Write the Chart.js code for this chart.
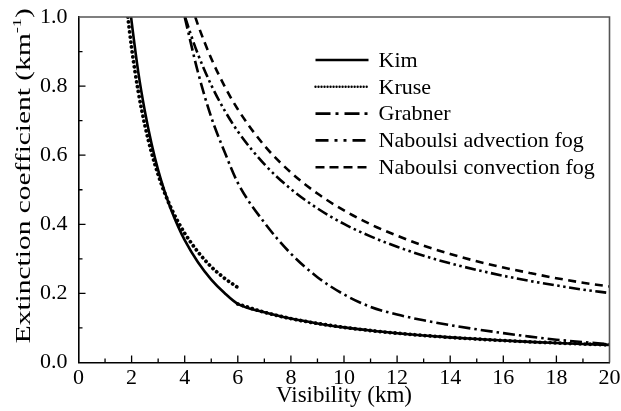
<!DOCTYPE html>
<html lang="en">
<head>
<meta charset="UTF-8">
<title>Extinction coefficient vs visibility</title>
<script src="https://cdn.jsdelivr.net/npm/chart.js"></script>
<style>
  html, body { margin: 0; padding: 0; background: #fff; }
  #wrap { width: 621px; height: 411px; }
</style>
</head>
<body>
<div id="wrap"><canvas id="chart"></canvas></div>
<script>
// values: visibility (km) and extinction coefficient (km^-1)
const kimV = [1.98, 2, 2.25, 2.5, 2.75, 3, 3.25, 3.5, 3.75, 4, 4.5, 5, 5.5, 6, 7, 8, 9, 10, 11, 12, 13, 14, 15, 16, 17, 18, 19, 20];
const kimB = [1.0, 0.987, 0.841, 0.727, 0.634, 0.557, 0.494, 0.440, 0.394, 0.354, 0.290, 0.240, 0.201, 0.1695, 0.1453, 0.1271, 0.113, 0.1017, 0.0925, 0.0848, 0.0782, 0.0726, 0.0678, 0.0636, 0.0598, 0.0565, 0.0535, 0.0509];

// Kruse jumps at 6 km and then runs on top of Kim
const kruseV = [1.86, 2, 2.25, 2.5, 2.75, 3, 3.25, 3.5, 3.75, 4, 4.5, 5, 5.5, 6, 6, 6, 7, 8, 9, 10, 11, 12, 13, 14, 15, 16, 17, 18, 19, 20];
const kruseB = [1.0, 0.911, 0.785, 0.687, 0.608, 0.544, 0.490, 0.445, 0.407, 0.374, 0.320, 0.277, 0.244, 0.217, null, 0.1695, 0.1453, 0.1271, 0.113, 0.1017, 0.0925, 0.0848, 0.0782, 0.0726, 0.0678, 0.0636, 0.0598, 0.0565, 0.0535, 0.0509];

const grabnerV = [4.0, 4.5, 5, 5.5, 6, 7, 8, 9, 10, 11, 12, 13, 14, 15, 16, 17, 18, 19, 20];
const grabnerB = [1.0, 0.84, 0.71, 0.61, 0.52, 0.405, 0.315, 0.247, 0.197, 0.161, 0.139, 0.122, 0.108, 0.096, 0.085, 0.075, 0.066, 0.059, 0.053];

const advV = [4.015, 4.25, 4.5, 5, 5.5, 6, 7, 8, 9, 10, 11, 12, 13, 14, 15, 16, 17, 18, 19, 20];
const advB = [1.0, 0.945, 0.892, 0.803, 0.730, 0.669, 0.574, 0.502, 0.446, 0.401, 0.365, 0.335, 0.309, 0.287, 0.268, 0.251, 0.236, 0.223, 0.211, 0.201];

const convV = [4.398, 4.5, 5, 5.5, 6, 7, 8, 9, 10, 11, 12, 13, 14, 15, 16, 17, 18, 19, 20];
const convB = [1.0, 0.977, 0.880, 0.800, 0.733, 0.628, 0.550, 0.489, 0.440, 0.400, 0.367, 0.338, 0.314, 0.293, 0.275, 0.259, 0.244, 0.231, 0.220];

const xTicks = [0, 2, 4, 6, 8, 10, 12, 14, 16, 18, 20];
const yTicks = [0, 0.2, 0.4, 0.6, 0.8, 1.0];

const FONT = '"Liberation Serif", "Times New Roman", serif';

function pairs(xs, ys) {
  return xs.map((x, i) => ({ x: x, y: ys[i] }));
}

function series(label, xs, ys, dash, extra) {
  return Object.assign({
    label: label,
    data: pairs(xs, ys),
    borderColor: '#000',
    backgroundColor: '#000',
    borderWidth: 2.6,
    borderDash: dash,
    pointRadius: 0,
    fill: false,
    spanGaps: false,
    cubicInterpolationMode: 'monotone'
  }, extra || {});
}

// inside ticks, top/right frame, the boxed-in legend and the long y title
const decorations = {
  id: 'decorations',
  afterDraw(chart) {
    const ctx = chart.ctx;
    const a = chart.chartArea;
    const xs = chart.scales.x, ys = chart.scales.y;
    ctx.save();

    // frame on top and right
    ctx.strokeStyle = '#555';
    ctx.lineWidth = 1.6;
    ctx.beginPath();
    ctx.moveTo(a.left, a.top);
    ctx.lineTo(a.right, a.top);
    ctx.lineTo(a.right, a.bottom);
    ctx.stroke();

    // ticks pointing in
    ctx.strokeStyle = '#000';
    ctx.lineWidth = 1.3;
    ctx.beginPath();
    for (let v = 1; v < 20; v++) {
      const px = xs.getPixelForValue(v);
      const len = v % 2 === 0 ? 7 : 4;
      ctx.moveTo(px, a.bottom);
      ctx.lineTo(px, a.bottom - len);
    }
    for (let k = 1; k < 10; k++) {
      const py = ys.getPixelForValue(k / 10);
      const len = k % 2 === 0 ? 7 : 4;
      ctx.moveTo(a.left, py);
      ctx.lineTo(a.left + len, py);
    }
    ctx.stroke();

    // legend
    const x0 = a.left + 237, x1 = a.left + 290, tx = a.left + 300;
    let y = a.top + 43;
    ctx.font = '22px ' + FONT;
    ctx.fillStyle = '#000';
    ctx.textBaseline = 'middle';
    chart.data.datasets.forEach(ds => {
      ctx.beginPath();
      ctx.setLineDash(ds.legendDash || ds.borderDash || []);
      ctx.lineCap = ds.borderCapStyle || 'butt';
      ctx.lineWidth = ds.legendWidth || ds.borderWidth;
      ctx.moveTo(x0, y);
      ctx.lineTo(x1, y);
      ctx.stroke();
      ctx.setLineDash([]);
      ctx.fillText(ds.label, tx, y + 1);
      y += 26.8;
    });

    // y title, drawn long and narrow like the original, with a real superscript
    const main = 'Extinction coefficient (km', sup = '-1', close = ')';
    const big = '21px ' + FONT, small = '13px ' + FONT;
    ctx.font = big;
    const w1 = ctx.measureText(main).width, w3 = ctx.measureText(close).width;
    ctx.font = small;
    const w2 = ctx.measureText(sup).width;
    const total = w1 + w2 + w3;
    const stretch = 335 / total;
    ctx.translate(a.left - 49, (a.top + a.bottom) / 2 - 14);
    ctx.rotate(-Math.PI / 2);
    ctx.scale(stretch, 1);
    ctx.textBaseline = 'alphabetic';
    ctx.textAlign = 'left';
    let cx = -total / 2;
    ctx.font = big;
    ctx.fillText(main, cx, 0);
    cx += w1;
    ctx.font = small;
    ctx.fillText(sup, cx, -9);
    cx += w2;
    ctx.font = big;
    ctx.fillText(close, cx, 0);
    ctx.restore();
  }
};

new Chart(document.getElementById('chart'), {
  type: 'line',
  data: {
    datasets: [
      series('Kim', kimV, kimB, []),
      series('Kruse', kruseV, kruseB, [0.01, 5], { borderWidth: 3.8, borderCapStyle: 'round', legendWidth: 2.4, legendDash: [0.01, 3] }),
      series('Grabner', grabnerV, grabnerB, [12, 4, 2.5, 4], { legendDash: [15, 5, 3, 6] }),
      series('Naboulsi advection fog', advV, advB, [11, 3.5, 2.5, 3.5, 2.5, 3.5], { legendDash: [13, 6, 3, 6, 3, 6] }),
      series('Naboulsi convection fog', convV, convB, [8, 5.5], { legendDash: [9, 5] })
    ]
  },
  options: {
    responsive: true,
    maintainAspectRatio: false,
    animation: false,
    layout: { padding: { left: 0, right: 11.5, top: 17, bottom: 0 } },
    plugins: {
      legend: { display: false },
      tooltip: { enabled: false }
    },
    scales: {
      x: {
        type: 'linear',
        min: 0,
        max: 20,
        afterBuildTicks: s => { s.ticks = xTicks.map(v => ({ value: v })); },
        afterFit: s => { s.height = 48.5; s.paddingLeft = 0; s.paddingRight = 0; },
        ticks: { color: '#000', font: { family: FONT, size: 22 }, padding: 3, maxRotation: 0 },
        grid: { display: false, drawTicks: false },
        border: { display: true, color: '#000', width: 1.6 },
        title: { display: true, text: 'Visibility (km)', color: '#000', font: { family: FONT, size: 23 }, padding: { top: 0, bottom: 1 } }
      },
      y: {
        type: 'linear',
        min: 0,
        max: 1,
        afterBuildTicks: s => { s.ticks = yTicks.map(v => ({ value: v })); },
        afterFit: s => { s.width = 78.5; s.paddingTop = 0; s.paddingBottom = 0; },
        ticks: { color: '#000', font: { family: FONT, size: 22 }, padding: 11, callback: v => Number(v).toFixed(1) },
        grid: { display: false, drawTicks: false },
        border: { display: true, color: '#000', width: 1.6 },
        title: { display: false }
      }
    }
  },
  plugins: [decorations]
});
</script>
</body>
</html>
